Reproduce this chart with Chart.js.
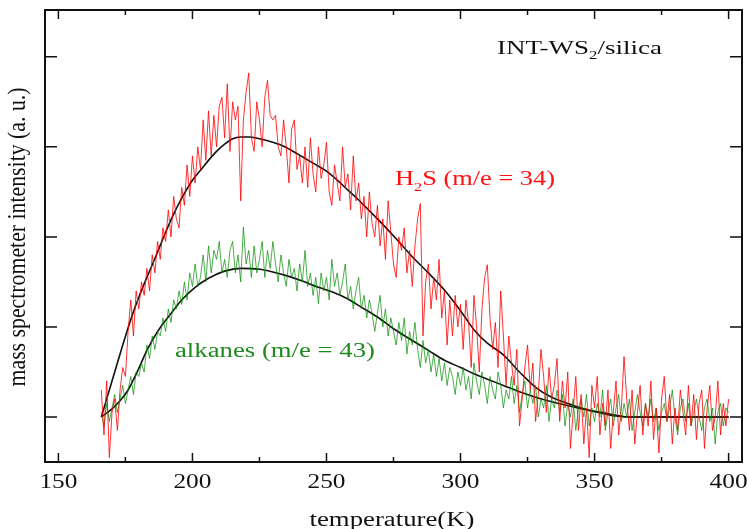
<!DOCTYPE html>
<html lang="en">
<head>
<meta charset="UTF-8">
<title>INT-WS2/silica - TPD</title>
<script src="https://cdn.jsdelivr.net/npm/chart.js"></script>
<style>
  html, body { margin: 0; padding: 0; background: #fff; }
  #wrap { width: 748px; height: 529px; }
</style>
</head>
<body>
<div id="wrap"><canvas id="tpd"></canvas></div>
<script>
// raw signals are sampled every 1 K from 166 K to 400 K
const tStart = 166, tEnd = 400;

// H2S (m/e = 34), raw signal
const h2sRaw = [
  0.3, -0.2, 0.4, -0.45, 0.05, 0.2, -0.15, 0.3, 0.55, 0.45,
  0.95, 1.3, 0.9, 1.4, 1.2, 1.5, 1.35, 1.65, 1.4, 1.8,
  1.6, 1.95, 1.75, 2.1, 1.95, 2.3, 2.0, 2.45, 2.2, 2.1,
  2.55, 2.35, 2.8, 2.45, 2.9, 2.6, 3.0, 2.75, 3.3, 2.85,
  3.4, 2.9, 3.35, 3.0, 3.45, 3.55, 3.1, 3.7, 2.95, 3.5,
  3.3, 3.45, 2.4, 3.3, 3.6, 3.82, 3.1, 2.95, 3.5, 3.3,
  3.0, 3.55, 3.74, 3.35, 3.3, 3.35, 3.0, 2.9, 3.3, 3.0,
  2.6, 3.2, 3.3, 2.75, 2.9, 2.6, 3.0, 2.55, 3.1, 2.7,
  2.5, 3.0, 2.65, 2.8, 3.05, 2.5, 2.35, 2.8, 2.6, 2.4,
  3.0, 2.55, 2.7, 2.3, 2.9, 2.4, 2.6, 2.2, 2.45, 2.0,
  2.5, 2.15, 2.0, 2.35, 1.9, 2.2, 1.75, 2.4, 2.05, 1.7,
  1.55, 2.0, 1.85, 2.1, 1.6, 1.85, 1.45, 1.9, 2.2, 2.37,
  0.9, 1.5, 1.7, 1.2, 1.55, 1.3, 1.75, 1.1, 1.4, 0.8,
  1.3, 0.9, 1.35, 1.0, 1.25, 0.75, 1.3, 1.05, 0.55, 1.35,
  1.0, 0.5, 1.2, 1.55, 1.69, 1.1, 0.75, 1.05, 0.55, 1.4,
  0.9, 0.35, 0.9, 0.6, 0.35, 0.75, -0.1, 0.2, 0.55, 0.8,
  0.3, 0.6, -0.05, 0.25, 0.75, 0.45, 0.05, 0.55, 0.2, 0.35,
  0.65, -0.05, 0.4, 0.1, 0.5, -0.35, 0.05, 0.45, -0.15, 0.25,
  -0.3, 0.1, -0.45, 0.35, 0.1, 0.45, -0.2, 0.15, -0.1, 0.3,
  -0.35, 0.05, 0.4, -0.2, 0.1, 0.67, 0.2, -0.15, 0.3, -0.3,
  0.05, 0.35, -0.2, 0.15, -0.1, 0.4, -0.25, 0.1, -0.4, 0.2,
  0.45, -0.05, 0.25, -0.3, 0.1, -0.15, 0.3, 0.05, -0.2, 0.35,
  -0.1, 0.25, -0.25, 0.15, 0.3, -0.35, 0.1, 0.35, -0.15, 0.0,
  0.4, -0.2, 0.15, -0.1, 0.2
];

// alkanes (m/e = 43), raw signal
const alkRaw = [
  0.05, -0.1, 0.15, -0.05, 0.1, 0.25, 0.05, 0.2, 0.35, 0.15,
  0.3, 0.45, 0.25, 0.5, 0.45, 0.6, 0.5, 0.8, 0.65, 0.9,
  0.75, 0.95, 0.9, 1.1, 0.95, 1.2, 1.05, 1.3, 1.2, 1.4,
  1.25, 1.5, 1.3, 1.6, 1.45, 1.7, 1.45, 1.55, 1.8, 1.5,
  1.9, 1.6, 1.85, 1.75, 1.95, 1.6, 1.75, 1.55, 1.85, 1.95,
  1.6, 1.8, 1.5, 2.11, 1.7, 1.85, 1.55, 1.9, 1.6, 1.75,
  1.95, 1.55, 1.85, 1.65, 1.95, 1.7, 1.5, 1.8, 1.6, 1.45,
  1.75, 1.55, 1.65, 1.4, 1.7, 1.5, 1.85, 1.45, 1.6, 1.35,
  1.55, 1.26, 1.6, 1.4, 1.55, 1.3, 1.75, 1.45, 1.6, 1.35,
  1.5, 1.7, 1.3, 1.45, 1.2, 1.4, 1.55, 1.2, 1.35, 1.1,
  1.3, 1.15, 0.95, 1.15, 1.35, 1.0, 1.2, 0.9, 1.1, 0.95,
  0.8, 1.05, 0.85, 1.1, 0.7, 0.95, 0.8, 1.05, 0.75, 0.55,
  0.85, 0.6, 0.75, 0.5, 0.7, 0.45, 0.65, 0.4, 0.6, 0.35,
  0.55, 0.45, 0.25, 0.5, 0.35, 0.55, 0.3, 0.45, 0.2, 0.6,
  0.4, 0.25, 0.5, 0.35, 0.15, 0.45, 0.3, 0.2, 0.5, 0.35,
  0.1, 0.3, 0.2, 0.45, 0.15, 0.35, 0.05, 0.25, 0.4, 0.1,
  0.3, 0.15, 0.35, 0.0, 0.2, 0.1, 0.35, -0.05, 0.2, 0.1,
  0.3, 0.05, 0.25, -0.1, 0.15, 0.0, 0.2, -0.15, 0.1, 0.2,
  0.0, 0.25, -0.1, 0.1, -0.05, 0.15, 0.0, 0.3, -0.15, 0.05,
  0.2, -0.1, 0.1, 0.25, -0.05, 0.15, 0.0, 0.2, -0.15, 0.05,
  0.25, 0.05, -0.1, 0.15, 0.0, 0.2, -0.05, 0.1, -0.15, 0.05,
  0.15, -0.05, 0.1, 0.3, 0.0, -0.2, 0.1, 0.2, -0.05, 0.15,
  -0.1, 0.05, 0.2, 0.0, -0.15, 0.1, 0.2, -0.05, 0.1, -0.3,
  0.05, 0.15, -0.1, 0.1, 0.05
];

// smoothed curves (black)
const h2sFitT = [166, 168, 170, 172, 174, 176, 178, 180, 183, 186, 189, 192, 196, 200, 203, 206, 209, 212, 215, 218, 221, 225, 229, 233, 237, 241, 245, 250, 254, 258, 262, 266, 270, 276, 282, 288, 294, 300, 305, 310, 316, 322, 328, 334, 341, 347, 353, 358, 363, 380, 400];
const h2sFitV = [0, 0.2, 0.4, 0.6, 0.8, 0.99, 1.17, 1.33, 1.55, 1.76, 1.98, 2.19, 2.43, 2.63, 2.74, 2.85, 2.95, 3.03, 3.09, 3.11, 3.11, 3.09, 3.06, 3.02, 2.96, 2.89, 2.82, 2.73, 2.63, 2.52, 2.41, 2.29, 2.17, 1.98, 1.78, 1.60, 1.41, 1.18, 0.97, 0.82, 0.69, 0.50, 0.33, 0.22, 0.14, 0.08, 0.04, 0.01, 0, 0, 0];
const alkFitT = [166, 170, 173, 176, 180, 183, 187, 192, 196, 201, 206, 212, 218, 225, 230, 235, 241, 247, 252, 258, 263, 269, 275, 282, 288, 294, 300, 305, 310, 316, 322, 328, 334, 341, 347, 353, 358, 363, 380, 400];
const alkFitV = [0, 0.09, 0.18, 0.30, 0.54, 0.74, 0.95, 1.15, 1.30, 1.44, 1.54, 1.62, 1.65, 1.64, 1.61, 1.57, 1.51, 1.44, 1.39, 1.31, 1.22, 1.11, 0.98, 0.85, 0.74, 0.63, 0.55, 0.48, 0.42, 0.35, 0.28, 0.22, 0.17, 0.12, 0.08, 0.05, 0.02, 0, 0, 0];

// axes
const xTicks = [150, 200, 250, 300, 350, 400];
const xMinorTicks = [175, 225, 275, 325, 375];
const yTicks = [0, 1, 2, 3, 4];

const serif = '"Liberation Serif", "Times New Roman", serif';
const ink = '#111';

function pts(xs, ys) { return ys.map((v, i) => ({ x: xs[i], y: v })); }
function rawPts(vals) { return vals.map((v, i) => ({ x: tStart + i, y: v })); }

// text squeezed/stretched to the width it has on the figure
function fitText(ctx, str, x, y, w, size, color, align) {
  ctx.save();
  ctx.font = size + 'px ' + serif;
  ctx.fillStyle = color;
  const m = ctx.measureText(str).width;
  const sx = w ? w / m : 1.27;
  ctx.translate(x, y);
  ctx.scale(sx, 1);
  ctx.textAlign = align || 'left';
  ctx.textBaseline = 'alphabetic';
  ctx.fillText(str, 0, 0);
  ctx.restore();
}

// text with a subscript part: parts = [[str, isSub], ...]
function richText(ctx, parts, x, y, w, size, color) {
  ctx.save();
  ctx.fillStyle = color;
  let total = 0;
  parts.forEach(p => {
    ctx.font = (p[1] ? size * 0.62 : size) + 'px ' + serif;
    total += ctx.measureText(p[0]).width;
  });
  const sx = w / total;
  ctx.translate(x, y);
  ctx.scale(sx, 1);
  let cx = 0;
  parts.forEach(p => {
    ctx.font = (p[1] ? size * 0.62 : size) + 'px ' + serif;
    ctx.fillText(p[0], cx, p[1] ? size * 0.28 : 0);
    cx += ctx.measureText(p[0]).width;
  });
  ctx.restore();
}

const framePlugin = {
  id: 'frame',
  afterDatasetsDraw(chart) {
    const ctx = chart.ctx, a = chart.chartArea;
    const xs = chart.scales.x, ys = chart.scales.y;
    ctx.save();
    ctx.strokeStyle = ink;
    ctx.lineWidth = 2;
    ctx.strokeRect(a.left, a.top, a.right - a.left, a.bottom - a.top);

    ctx.lineWidth = 1.5;
    ctx.beginPath();
    xTicks.forEach(v => {
      const px = xs.getPixelForValue(v);
      ctx.moveTo(px, a.bottom); ctx.lineTo(px, a.bottom - 9);
      ctx.moveTo(px, a.top); ctx.lineTo(px, a.top + 9);
    });
    xMinorTicks.forEach(v => {
      const px = xs.getPixelForValue(v);
      ctx.moveTo(px, a.bottom); ctx.lineTo(px, a.bottom - 5);
      ctx.moveTo(px, a.top); ctx.lineTo(px, a.top + 5);
    });
    yTicks.forEach(v => {
      const py = ys.getPixelForValue(v);
      ctx.moveTo(a.left, py); ctx.lineTo(a.left + 12, py);
      ctx.moveTo(a.right, py); ctx.lineTo(a.right - 12, py);
    });
    ctx.stroke();
    ctx.restore();

    // tick labels
    xTicks.forEach(v => {
      fitText(ctx, String(v), xs.getPixelForValue(v), 488, 38, 20, ink, 'center');
    });

    // axis titles
    fitText(ctx, 'temperature(K)', 392, 526, 165, 20, ink, 'center');
    ctx.save();
    ctx.translate(25, (a.top + a.bottom) / 2 + 1);
    ctx.rotate(-Math.PI / 2);
    ctx.font = '20px ' + serif;
    const yt = 'mass spectrometer intensity (a. u.)';
    const m = ctx.measureText(yt).width;
    ctx.scale(299 / m, 1.27);
    ctx.fillStyle = ink;
    ctx.textAlign = 'center';
    ctx.fillText(yt, 0, 0);
    ctx.restore();

    // annotations
    richText(ctx, [['INT-WS', false], ['2', true], ['/silica', false]], 497, 54, 165, 19, ink);
    richText(ctx, [['H', false], ['2', true], ['S (m/e = 34)', false]], 395, 185, 160, 20, '#ff1010');
    fitText(ctx, 'alkanes (m/e = 43)', 175, 357, 200, 20, '#1f8a1f', 'left');
  }
};

new Chart(document.getElementById('tpd'), {
  type: 'line',
  data: {
    datasets: [
      {
        label: 'H2S (m/e = 34)',
        data: rawPts(h2sRaw),
        borderColor: 'rgba(255, 0, 0, 0.8)',
        borderWidth: 1,
        pointRadius: 0,
        tension: 0
      },
      {
        label: 'alkanes (m/e = 43)',
        data: rawPts(alkRaw),
        borderColor: 'rgba(0, 140, 0, 0.7)',
        borderWidth: 1,
        pointRadius: 0,
        tension: 0
      },
      {
        label: 'H2S fit',
        data: pts(h2sFitT, h2sFitV),
        borderColor: ink,
        borderWidth: 1.6,
        pointRadius: 0,
        cubicInterpolationMode: 'monotone'
      },
      {
        label: 'alkanes fit',
        data: pts(alkFitT, alkFitV),
        borderColor: ink,
        borderWidth: 1.6,
        pointRadius: 0,
        cubicInterpolationMode: 'monotone'
      }
    ]
  },
  options: {
    responsive: true,
    maintainAspectRatio: false,
    animation: false,
    layout: { padding: { left: 45, top: 10, right: 6, bottom: 67 } },
    plugins: { legend: { display: false }, tooltip: { enabled: false } },
    scales: {
      x: { type: 'linear', min: 145, max: 405, display: false },
      y: { type: 'linear', min: -0.5, max: 4.52, display: false }
    }
  },
  plugins: [framePlugin]
});
</script>
</body>
</html>
